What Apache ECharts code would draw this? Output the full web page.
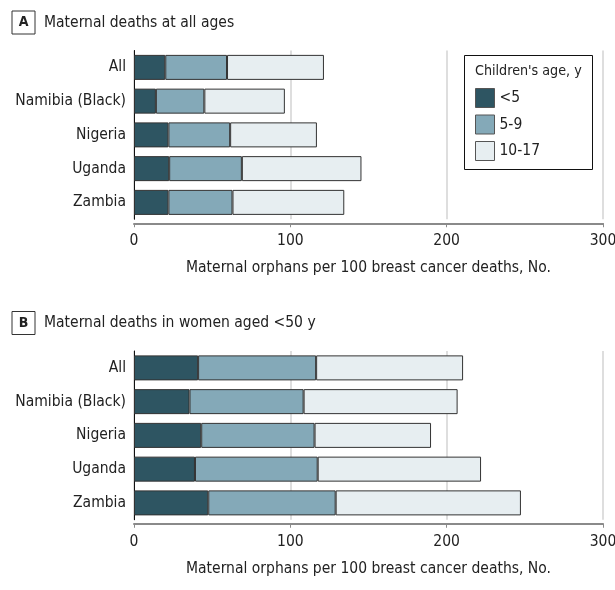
<!DOCTYPE html>
<html>
<head>
<meta charset="utf-8">
<script src="https://cdn.jsdelivr.net/npm/echarts@6/dist/echarts.min.js"></script>
<style>
  html, body { margin: 0; padding: 0; background: #fff; }
  #main { width: 615px; height: 590px; }
</style>
</head>
<body>
<div id="main"></div>
<script>
// data
var countries = ['All', 'Namibia (Black)', 'Nigeria', 'Uganda', 'Zambia'];
var ageGroups = ['<5', '5-9', '10-17'];

// A: maternal deaths at all ages
var allAgesUnder5 = [20, 14, 22, 22.5, 22];
var allAges5to9 = [39.5, 31, 39.5, 46.5, 41];
var allAges10to17 = [62, 51.5, 55.5, 76.5, 71.5];

// B: maternal deaths in women aged <50 y
var under50Under5 = [41, 35.5, 43, 39, 47.5];
var under50_5to9 = [75.5, 73, 72.5, 78.5, 81.5];
var under50_10to17 = [94, 98.5, 74.5, 104.5, 118.5];

var FONT = '"DejaVu Sans Condensed", "Liberation Sans Narrow", sans-serif';
var FS = 15.5;
var colors = ['#2e5562', '#84a9b8', '#e7eef1'];

var chart = echarts.init(document.getElementById('main'));

function panelTitle(letter, text, top) {
    return {
        left: 12,
        top: top,
        padding: 0,
        text: '{box|' + letter + '}{t|' + text + '}',
        textStyle: {
            fontWeight: 'normal',
            rich: {
                box: {
                    fontFamily: FONT, fontSize: 14, fontWeight: 'bold', color: '#222',
                    width: 23, height: 23, lineHeight: 23, align: 'center',
                    borderColor: '#333', borderWidth: 1
                },
                t: { fontFamily: FONT, fontSize: FS, fontWeight: 'normal', color: '#222', padding: [0, 0, 0, 9] }
            }
        }
    };
}

function xAxisFor(idx) {
    return {
        gridIndex: idx,
        type: 'value',
        min: 0,
        max: 300,
        interval: 100,
        offset: 4,
        name: 'Maternal orphans per 100 breast cancer deaths, No.',
        nameLocation: 'middle',
        nameGap: 37,
        nameTextStyle: { fontFamily: FONT, fontSize: FS, color: '#222' },
        axisLine: { show: true, lineStyle: { color: '#8a8a8a', width: 2 } },
        axisTick: { show: true, length: 4, lineStyle: { color: '#8a8a8a' } },
        axisLabel: { fontFamily: FONT, fontSize: FS, color: '#222', margin: 10 },
        splitLine: { show: true, lineStyle: { color: '#dedede', width: 2 } }
    };
}

function yAxisFor(idx) {
    return {
        gridIndex: idx,
        type: 'category',
        data: countries,
        inverse: true,
        axisLine: { show: true, lineStyle: { color: '#111', width: 1 } },
        axisTick: { show: false },
        axisLabel: { fontFamily: FONT, fontSize: FS, color: '#222', margin: 8 }
    };
}

function barSeries(idx, values, k) {
    return {
        name: ageGroups[k],
        type: 'bar',
        stack: 'p' + idx,
        xAxisIndex: idx,
        yAxisIndex: idx,
        barWidth: 25,
        data: values,
        itemStyle: { color: colors[k], borderColor: '#333', borderWidth: 1 },
        emphasis: { disabled: true }
    };
}

var option = {
    animation: false,
    title: [
        panelTitle('A', 'Maternal deaths at all ages', 11),
        panelTitle('B', 'Maternal deaths in women aged <50 y', 311.5)
    ],
    grid: [
        { left: 134, right: 12, top: 50.5, height: 168.75, outerBoundsMode: 'none', containLabel: false },
        { left: 134, right: 12, top: 351, height: 168.75, outerBoundsMode: 'none', containLabel: false }
    ],
    xAxis: [xAxisFor(0), xAxisFor(1)],
    yAxis: [yAxisFor(0), yAxisFor(1)],
    legend: {
        data: ageGroups,
        orient: 'vertical',
        left: 475,
        top: 88,
        padding: 0,
        icon: 'rect',
        itemWidth: 19,
        itemHeight: 19,
        itemGap: 6.5,
        textStyle: { fontFamily: FONT, fontSize: FS, color: '#222' },
        itemStyle: { borderColor: '#555', borderWidth: 1 }
    },
    graphic: [
        {
            type: 'rect',
            shape: { x: 464.5, y: 55.5, width: 128, height: 114 },
            style: { fill: '#fff', stroke: '#111', lineWidth: 1 },
            z: -1
        },
        {
            type: 'text',
            x: 475,
            y: 64,
            style: { text: "Children's age, y", font: '14.2px ' + FONT, fill: '#222' }
        }
    ],
    series: [
        barSeries(0, allAgesUnder5, 0),
        barSeries(0, allAges5to9, 1),
        barSeries(0, allAges10to17, 2),
        barSeries(1, under50Under5, 0),
        barSeries(1, under50_5to9, 1),
        barSeries(1, under50_10to17, 2)
    ]
};

chart.setOption(option);
</script>
</body>
</html>
